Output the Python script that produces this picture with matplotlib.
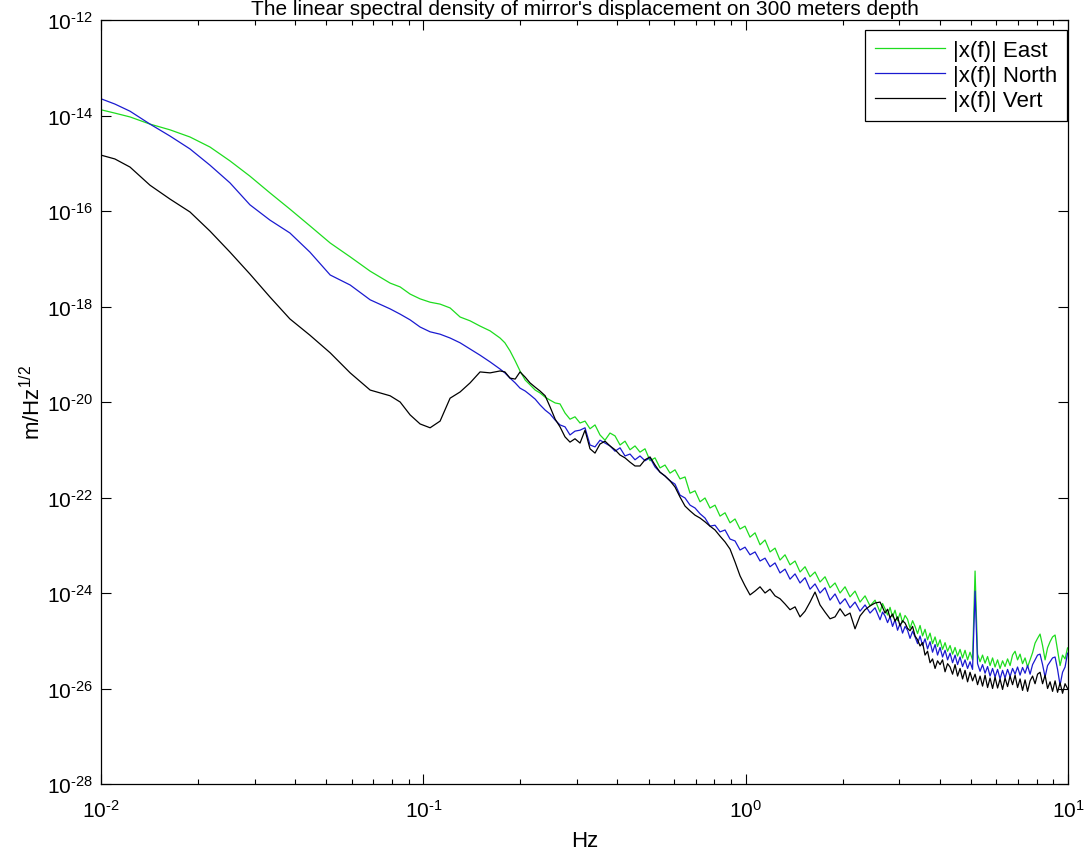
import numpy as np
import matplotlib
matplotlib.use("Agg")
import matplotlib.pyplot as plt
from matplotlib.ticker import LogLocator, NullLocator, NullFormatter, FuncFormatter

plt.rcParams['font.family'] = ['Liberation Sans', 'DejaVu Sans']
plt.rcParams['mathtext.fontset'] = 'custom'
plt.rcParams['mathtext.rm'] = 'Liberation Sans'
plt.rcParams['mathtext.it'] = 'Liberation Sans:italic'
plt.rcParams['mathtext.bf'] = 'Liberation Sans:bold'
plt.rcParams['axes.unicode_minus'] = False

title = "The linear spectral density of mirror's displacement on 300 meters depth"
labels = ["|x(f)| East", "|x(f)| North", "|x(f)| Vert"]

# log10 of frequency (Hz)
log_f = [-2.000, -1.957, -1.910, -1.848, -1.786, -1.724, -1.662, -1.600, -1.538, -1.476,
         -1.414, -1.352, -1.289, -1.227, -1.165, -1.103, -1.072, -1.041, -1.010, -0.979,
         -0.948, -0.917, -0.886, -0.855, -0.824, -0.793, -0.762, -0.747, -0.731, -0.715,
         -0.700, -0.684, -0.669, -0.653, -0.638, -0.622, -0.607, -0.591, -0.576,
         -0.5605, -0.5450, -0.5295, -0.5139, -0.4984, -0.4829, -0.4674, -0.4519, -0.4364, -0.4209,
         -0.4053, -0.3898, -0.3743, -0.3588, -0.3433, -0.3278, -0.3123, -0.2967, -0.2812, -0.2657,
         -0.2502, -0.2347, -0.2192, -0.2037, -0.1881, -0.1726, -0.1571, -0.1416, -0.1261, -0.1106,
         -0.0951, -0.0795, -0.0640, -0.0485, -0.0330, -0.0175, -0.0020, 0.0135, 0.0291, 0.0446,
         0.0601, 0.0756, 0.0911, 0.1066, 0.1221, 0.1376, 0.1532, 0.1687, 0.1842, 0.1997,
         0.2152, 0.2307, 0.2462, 0.2618, 0.2773, 0.2928, 0.3083, 0.3238, 0.3393, 0.3548,
         0.3704, 0.3859, 0.4014,
         0.4169, 0.4247, 0.4324, 0.4402, 0.4479, 0.4557, 0.4634, 0.4712, 0.4790, 0.4867,
         0.4945, 0.5022, 0.5100, 0.5178, 0.5255, 0.5333, 0.5410, 0.5488, 0.5565, 0.5643,
         0.5720, 0.5798, 0.5876, 0.5953, 0.6031, 0.6108, 0.6186, 0.6264, 0.6341, 0.6419,
         0.6496, 0.6574, 0.6651, 0.6729, 0.6806, 0.6884, 0.6961, 0.7039, 0.7117, 0.7194,
         0.7272, 0.7349, 0.7427, 0.7505, 0.7582, 0.7660, 0.7737, 0.7815, 0.7892, 0.7970,
         0.8047, 0.8125, 0.8203, 0.8280, 0.8358, 0.8435, 0.8513, 0.8590, 0.8668, 0.8746,
         0.8823, 0.8901, 0.8978, 0.9056, 0.9133, 0.9211, 0.9289, 0.9366, 0.9444, 0.9521,
         0.9599, 0.9676, 0.9754, 0.9831, 0.9909, 0.9986]

# log10 of amplitude (m/Hz^1/2)
east_log = [-13.88, -13.95, -14.03, -14.18, -14.30, -14.45, -14.66, -14.95, -15.27, -15.62,
            -15.96, -16.31, -16.67, -16.96, -17.26, -17.51, -17.59, -17.74, -17.84, -17.91,
            -17.95, -18.03, -18.22, -18.30, -18.41, -18.51, -18.66, -18.76, -18.93, -19.14,
            -19.35, -19.54, -19.64, -19.75, -19.81, -19.90, -19.96, -20.02, -20.04,
            -20.23, -20.36, -20.31, -20.44, -20.40, -20.56, -20.48, -20.69, -20.80, -20.65,
            -20.71, -20.90, -20.82, -21.00, -20.92, -21.05, -20.98, -21.23, -21.17, -21.38,
            -21.32, -21.49, -21.42, -21.61, -21.57, -21.91, -21.86, -22.09, -22.01, -22.22,
            -22.16, -22.39, -22.32, -22.53, -22.45, -22.66, -22.60, -22.83, -22.74, -22.99,
            -22.89, -23.14, -23.06, -23.31, -23.20, -23.41, -23.33, -23.56, -23.45, -23.66,
            -23.56, -23.77, -23.66, -23.89, -23.79, -24.00, -23.87, -24.08, -23.96, -24.19,
            -24.06, -24.27, -24.15,
            -24.40, -24.22, -24.33, -24.46, -24.30, -24.50, -24.36, -24.58, -24.42, -24.62,
            -24.47, -24.55, -24.74, -24.58, -24.70, -24.85, -24.68, -24.90, -24.76, -24.98,
            -24.84, -25.06, -24.92, -25.12, -24.98, -25.18, -25.04, -25.22, -25.10, -25.28,
            -25.14, -25.32, -25.18, -25.36, -25.20, -25.40, -25.24, -25.40, -23.54, -25.28,
            -25.44, -25.30, -25.47, -25.33, -25.52, -25.36, -25.55, -25.40, -25.58, -25.42,
            -25.54, -25.38, -25.52, -25.30, -25.22, -25.40, -25.28, -25.48, -25.36, -25.55,
            -25.40, -25.25, -25.05, -24.95, -24.86, -25.10, -25.40, -25.15, -25.02, -24.92,
            -24.88, -25.20, -25.52, -25.30, -25.38, -25.15]

north_log = [-13.65, -13.76, -13.91, -14.18, -14.43, -14.70, -15.04, -15.41, -15.87, -16.19,
             -16.46, -16.86, -17.34, -17.55, -17.86, -18.05, -18.16, -18.28, -18.43, -18.53,
             -18.58, -18.66, -18.76, -18.89, -19.02, -19.16, -19.31, -19.39, -19.50, -19.60,
             -19.71, -19.77, -19.85, -19.94, -20.06, -20.17, -20.25, -20.38, -20.48,
             -20.52, -20.69, -20.61, -20.59, -20.54, -20.90, -20.94, -20.80, -20.86, -20.92,
             -21.03, -20.96, -21.13, -21.09, -21.21, -21.13, -21.23, -21.17, -21.36, -21.47,
             -21.55, -21.65, -21.72, -21.95, -22.01, -22.16, -22.22, -22.34, -22.43, -22.60,
             -22.58, -22.72, -22.68, -22.87, -22.91, -23.10, -23.04, -23.20, -23.14, -23.33,
             -23.27, -23.45, -23.37, -23.58, -23.50, -23.71, -23.60, -23.79, -23.68, -23.92,
             -23.81, -24.00, -23.89, -24.15, -24.02, -24.23, -24.12, -24.31, -24.19, -24.38,
             -24.25, -24.42, -24.31,
             -24.56, -24.40, -24.48, -24.62, -24.50, -24.70, -24.56, -24.78, -24.64, -24.84,
             -24.70, -24.78, -24.95, -24.80, -24.92, -25.06, -24.90, -25.10, -24.96, -25.17,
             -25.02, -25.24, -25.08, -25.30, -25.14, -25.34, -25.20, -25.40, -25.26, -25.46,
             -25.30, -25.50, -25.34, -25.54, -25.40, -25.58, -25.44, -25.60, -23.96, -25.48,
             -25.64, -25.50, -25.68, -25.54, -25.74, -25.58, -25.76, -25.60, -25.80, -25.62,
             -25.78, -25.60, -25.75, -25.58, -25.70, -25.55, -25.72, -25.56, -25.68, -25.52,
             -25.70, -25.50, -25.40, -25.30, -25.28, -25.50, -25.76, -25.52, -25.44, -25.36,
             -25.34, -25.60, -25.93, -25.66, -25.55, -25.26]

vert_log = [-14.83, -14.91, -15.08, -15.46, -15.75, -16.02, -16.42, -16.86, -17.32, -17.80,
            -18.26, -18.60, -18.97, -19.39, -19.75, -19.87, -20.00, -20.27, -20.46, -20.54,
            -20.40, -19.92, -19.79, -19.60, -19.37, -19.39, -19.35, -19.37, -19.50, -19.52,
            -19.37, -19.48, -19.60, -19.69, -19.77, -19.87, -20.10, -20.36, -20.52,
            -20.73, -20.84, -20.77, -20.86, -20.59, -20.98, -21.07, -20.88, -20.82, -20.92,
            -21.00, -21.11, -21.17, -21.26, -21.34, -21.34, -21.21, -21.15, -21.32, -21.47,
            -21.55, -21.65, -21.78, -21.99, -22.18, -22.28, -22.37, -22.43, -22.51, -22.60,
            -22.68, -22.81, -22.93, -23.08, -23.35, -23.64, -23.85, -24.04, -23.96, -23.87,
            -24.00, -23.92, -24.06, -24.12, -24.23, -24.35, -24.29, -24.50, -24.38, -24.19,
            -23.98, -24.25, -24.40, -24.54, -24.50, -24.33, -24.48, -24.42, -24.75, -24.48,
            -24.35, -24.27, -24.21,
            -24.19, -24.30, -24.42, -24.34, -24.52, -24.44, -24.59, -24.50, -24.69, -24.58,
            -24.63, -24.74, -24.79, -24.70, -24.90, -24.98, -25.11, -25.04, -25.30, -25.22,
            -25.46, -25.38, -25.58, -25.42, -25.50, -25.40, -25.65, -25.48, -25.55, -25.70,
            -25.50, -25.74, -25.58, -25.80, -25.62, -25.86, -25.66, -25.84, -25.70, -25.92,
            -25.74, -25.95, -25.72, -25.98, -25.78, -26.00, -25.76, -25.99, -25.80, -26.02,
            -25.78, -25.96, -25.74, -25.92, -25.72, -25.98, -25.80, -26.04, -25.82, -26.06,
            -25.84, -25.74, -25.90, -25.70, -25.66, -25.90, -25.72, -26.00, -25.86, -26.06,
            -25.84, -26.08, -25.88, -26.10, -25.90, -26.00]

assert len(log_f) == len(east_log) == len(north_log) == len(vert_log)

freq = 10 ** np.array(log_f)
east = 10 ** np.array(east_log)
north = 10 ** np.array(north_log)
vert = 10 ** np.array(vert_log)

W, H = 1085, 854
fig = plt.figure(figsize=(W / 100, H / 100), dpi=100)
ax = fig.add_axes([101 / W, 1 - 785 / H, (1068 - 101) / W, (785 - 21) / H])

ax.loglog(freq, east, color='#1edc1e', lw=0.9, label=labels[0])
ax.loglog(freq, north, color='#1a1ad0', lw=0.9, label=labels[1])
ax.loglog(freq, vert, color='black', lw=0.9, label=labels[2])

ax.set_xlim(1e-2, 1e1)
ax.set_ylim(1e-28, 1e-12)
ax.set_yticks([10.0 ** e for e in range(-28, -11, 2)])
ax.yaxis.set_minor_locator(NullLocator())
ax.xaxis.set_major_locator(LogLocator(base=10, numticks=10))
ax.xaxis.set_minor_locator(LogLocator(base=10, subs=np.arange(2, 10), numticks=20))
ax.xaxis.set_minor_formatter(NullFormatter())


def pow_label(v, pos):
    e = int(round(np.log10(v)))
    return r'$10^{\text{%d}}$' % e


ax.xaxis.set_major_formatter(FuncFormatter(pow_label))
ax.yaxis.set_major_formatter(FuncFormatter(pow_label))

ax.tick_params(which='both', direction='in', top=True, right=True, labelsize=15, colors='black')
ax.tick_params(which='major', length=7, width=0.8)
ax.tick_params(which='minor', length=3.5, width=0.8)
ax.tick_params(axis='x', pad=11)
ax.tick_params(axis='y', pad=6)
for s in ax.spines.values():
    s.set_linewidth(0.9)
    s.set_color('black')

ax.set_xlabel('Hz', fontsize=16, labelpad=6)
ax.set_ylabel(r'm/Hz$^{1/2}$', fontsize=16, labelpad=1)

fig.text((101 + 1068) / 2 / W, 1 - 15 / H, title, ha='center', va='baseline', fontsize=15)

leg = ax.legend(loc='upper right', bbox_to_anchor=(1067 / W, 1 - 31 / H),
                bbox_transform=fig.transFigure, borderaxespad=0, fontsize=16,
                fancybox=False, framealpha=1, edgecolor='black', handlelength=3.15,
                handletextpad=0.36, labelspacing=0.17, borderpad=0.45)
leg.get_frame().set_linewidth(0.9)

fig.savefig('out.png', dpi=100)
